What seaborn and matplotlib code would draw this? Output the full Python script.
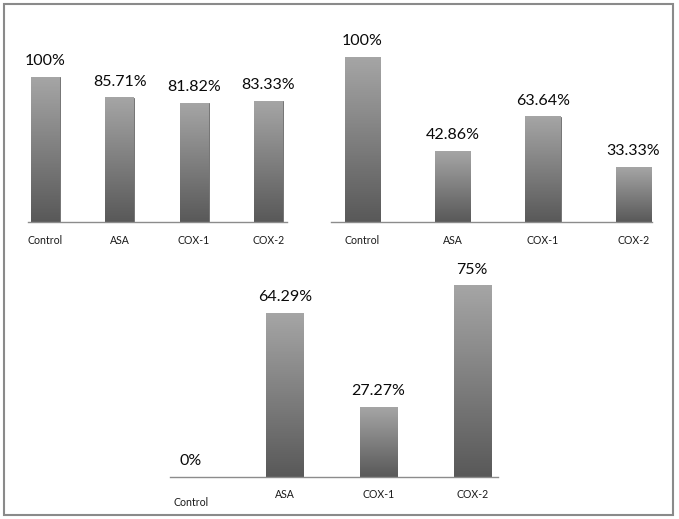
import numpy as np
import pandas as pd
import seaborn as sns
import matplotlib.pyplot as plt
from matplotlib.patches import Rectangle
from matplotlib.colors import LinearSegmentedColormap

groups = ["Control", "ASA", "COX-1", "COX-2"]
panel_a = [100, 85.71, 81.82, 83.33]
panel_b = [100, 42.86, 63.64, 33.33]
panel_c = [0, 64.29, 27.27, 75]

W, H = 679, 519
sns.set_theme(style="white")
plt.rcParams['font.family'] = ['Lato', 'DejaVu Sans']

fig = plt.figure(figsize=(W / 100, H / 100), dpi=100)
fig.patch.set_facecolor("white")

grad = LinearSegmentedColormap.from_list("g", ["#595959", "#a5a5a5"])


def fmt(v):
    s = f"{v:.2f}".rstrip("0").rstrip(".")
    return s + "%"


def panel(vals, x0, x1, c0, step, base, px100, width):
    # axes placed in pixel terms, 0..100 maps to px100 pixels
    ax = fig.add_axes([x0 / W, (H - base) / H, (x1 - x0) / W, px100 / H])
    ax.set_facecolor("none")
    df = pd.DataFrame({"group": groups, "value": vals})
    sns.barplot(data=df, x="group", y="value", color="#808080", width=width,
                ax=ax, edgecolor="#6a6a6a", linewidth=0.6)
    ax.set_ylim(0, 100)
    for p in ax.patches:
        bx, by, bw, bh = p.get_x(), p.get_y(), p.get_width(), p.get_height()
        if bh <= 0:
            continue
        g = np.linspace(0, 1, 100).reshape(-1, 1)
        ax.imshow(g, cmap=grad, origin="lower", aspect="auto",
                  extent=[bx, bx + bw, by, by + bh], zorder=2.5)
    for i, v in enumerate(vals):
        ax.annotate(fmt(v), (i, v), xytext=(0, 6.5), textcoords="offset points",
                    ha="center", va="bottom", fontsize=11.5, color="#0a0a0a",
                    annotation_clip=False)
    ax.set_xlabel("")
    ax.set_ylabel("")
    ax.set_yticks([])
    ax.tick_params(axis="x", length=0, pad=9, labelsize=7.6, colors="#1a1a1a")
    for s in ["top", "left", "right"]:
        ax.spines[s].set_visible(False)
    ax.spines["bottom"].set_color("#8c8c8c")
    ax.spines["bottom"].set_linewidth(1.0)
    ax.set_xlim((x0 - c0) / step, (x1 - c0) / step)
    return ax


panel(panel_a, 28, 287, 45.5, 74.3, 222, 145, 0.39)
panel(panel_b, 331, 652, 362.5, 90.3, 222, 165, 0.39)
ax3 = panel(panel_c, 170, 498, 191, 93.7, 477, 255, 0.395)
# the Control label sits a little lower in the bottom panel
lab = ax3.get_xticklabels()[0]
lab.set_y(-0.03)

fig.patches.append(Rectangle((4 / W, 4 / H), (673 - 4) / W, (515 - 4) / H,
                             transform=fig.transFigure, fill=False,
                             edgecolor="#8a8a8a", linewidth=1.5))

plt.savefig("out.png", dpi=100)
plt.close("all")
